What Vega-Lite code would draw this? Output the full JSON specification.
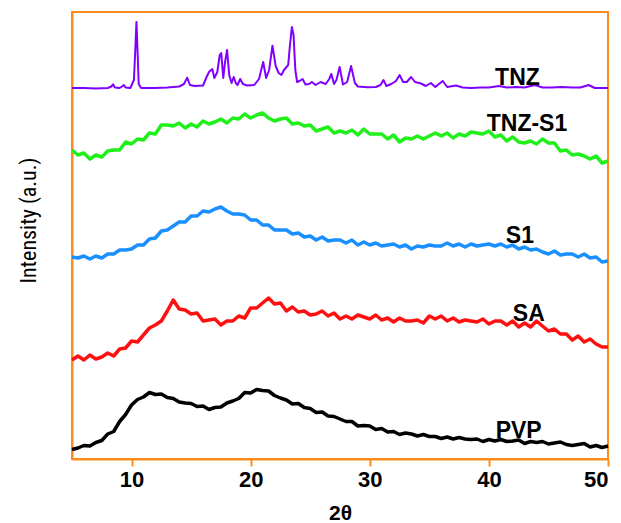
{
  "$schema": "https://vega.github.io/schema/vega-lite/v6.json",
  "width": 536,
  "height": 447,
  "autosize": {"type": "none"},
  "padding": {"left": 72, "top": 12, "right": 13, "bottom": 64},
  "background": "white",
  "config": {
    "view": {"stroke": "#ff8c1a", "strokeWidth": 2},
    "font": "Liberation Sans"
  },
  "datasets": {
    "amorph": [
      {"x":5.0,"g":309,"b":202,"r":99,"k":9.5},{"x":5.5,"g":304,"b":201,"r":103,"k":11},{"x":6.0,"g":306,"b":203,"r":99,"k":13.5},{"x":6.5,"g":300,"b":200,"r":104,"k":13},{"x":7.0,"g":304,"b":203,"r":100,"k":16.5},
      {"x":7.5,"g":302,"b":201,"r":102,"k":18.5},{"x":8.0,"g":308,"b":205,"r":106,"k":25},{"x":8.5,"g":309,"b":205,"r":103,"k":27.5},{"x":9.0,"g":309,"b":209,"r":110,"k":37.5},{"x":9.5,"g":317,"b":209,"r":111,"k":44.5},
      {"x":10.0,"g":315,"b":210,"r":118,"k":54},{"x":10.5,"g":320,"b":214,"r":117,"k":59.5},{"x":11.0,"g":319,"b":214,"r":124,"k":62},{"x":11.5,"g":326,"b":220,"r":131,"k":66.5},{"x":12.0,"g":325,"b":221,"r":134,"k":64.5},
      {"x":12.5,"g":334,"b":228,"r":138,"k":65},{"x":13.0,"g":334,"b":229,"r":148,"k":61.5},{"x":13.5,"g":333,"b":233,"r":159,"k":60.5},{"x":14.0,"g":336,"b":237,"r":150,"k":57},{"x":14.5,"g":331,"b":237,"r":149,"k":56},
      {"x":15.0,"g":335,"b":243,"r":145,"k":55.5},{"x":15.5,"g":332,"b":243,"r":146,"k":52.5},{"x":16.0,"g":338,"b":248,"r":138,"k":53},{"x":16.5,"g":335,"b":247,"r":139,"k":49.5},{"x":17.0,"g":337,"b":250,"r":140,"k":51.5},
      {"x":17.5,"g":340,"b":252,"r":134,"k":52},{"x":18.0,"g":336,"b":248,"r":138,"k":56},{"x":18.5,"g":341,"b":245,"r":138,"k":58},{"x":19.0,"g":340,"b":245,"r":143,"k":60.5},{"x":19.5,"g":345,"b":244,"r":141,"k":66.5},
      {"x":20.0,"g":341,"b":239,"r":151,"k":66},{"x":20.5,"g":344,"b":239,"r":151,"k":69.5},{"x":21.0,"g":346,"b":234,"r":156,"k":68.5},{"x":21.5,"g":341,"b":234,"r":161,"k":68},{"x":22.0,"g":338,"b":229,"r":155,"k":63.5},
      {"x":22.5,"g":340,"b":229,"r":156,"k":61},{"x":23.0,"g":341,"b":229,"r":148,"k":59},{"x":23.5,"g":335,"b":225,"r":152,"k":55},{"x":24.0,"g":336,"b":226,"r":147,"k":55.5},{"x":24.5,"g":333,"b":222,"r":148,"k":51.5},
      {"x":25.0,"g":334,"b":223,"r":144,"k":50.5},{"x":25.5,"g":328,"b":219,"r":145,"k":46.5},{"x":26.0,"g":330,"b":222,"r":148,"k":47},{"x":26.5,"g":332,"b":218,"r":143,"k":43},{"x":27.0,"g":326,"b":219,"r":146,"k":42.5},
      {"x":27.5,"g":328,"b":219,"r":140,"k":40},{"x":28.0,"g":326,"b":216,"r":143,"k":37.5},{"x":28.5,"g":329,"b":219,"r":140,"k":37.5},{"x":29.0,"g":324,"b":214,"r":144,"k":33},{"x":29.5,"g":330,"b":217,"r":142,"k":33.5},
      {"x":30.0,"g":325,"b":214,"r":140,"k":33},{"x":30.5,"g":325,"b":216,"r":144,"k":29.5},{"x":31.0,"g":325,"b":213,"r":139,"k":30.5},{"x":31.5,"g":320,"b":214,"r":141,"k":27},{"x":32.0,"g":324,"b":215,"r":137,"k":27.5},
      {"x":32.5,"g":317,"b":212,"r":141,"k":24.5},{"x":33.0,"g":321,"b":214,"r":138,"k":26},{"x":33.5,"g":320,"b":210,"r":138,"k":25},{"x":34.0,"g":323,"b":213,"r":139,"k":23},{"x":34.5,"g":320,"b":212,"r":136,"k":24.5},
      {"x":35.0,"g":323,"b":214,"r":143,"k":22.5},{"x":35.5,"g":326,"b":213,"r":140,"k":22.5},{"x":36.0,"g":323,"b":213,"r":143,"k":20.5},{"x":36.5,"g":326,"b":216,"r":138,"k":22},{"x":37.0,"g":321,"b":213,"r":141,"k":20},
      {"x":37.5,"g":325,"b":215,"r":137,"k":21.5},{"x":38.0,"g":323,"b":212,"r":139,"k":20},{"x":38.5,"g":327,"b":215,"r":138,"k":19.5},{"x":39.0,"g":326,"b":213,"r":137,"k":20},{"x":39.5,"g":325,"b":214,"r":140,"k":17.5},
      {"x":40.0,"g":328,"b":215,"r":135,"k":19.5},{"x":40.5,"g":322,"b":213,"r":138,"k":18},{"x":41.0,"g":324,"b":215,"r":138,"k":19.5},{"x":41.5,"g":318,"b":212,"r":134,"k":17.5},{"x":42.0,"g":322,"b":214,"r":138,"k":18},
      {"x":42.5,"g":317,"b":210,"r":132,"k":19},{"x":43.0,"g":316,"b":212,"r":136,"k":15.5},{"x":43.5,"g":318,"b":209,"r":132,"k":17.5},{"x":44.0,"g":315,"b":210,"r":138,"k":16.5},{"x":44.5,"g":320,"b":207,"r":133,"k":17.5},
      {"x":45.0,"g":316,"b":205,"r":128,"k":15},{"x":45.5,"g":316,"b":208,"r":130,"k":16},{"x":46.0,"g":308,"b":204,"r":125,"k":17},{"x":46.5,"g":309,"b":205,"r":125,"k":14.5},{"x":47.0,"g":304,"b":205,"r":119,"k":13.5},
      {"x":47.5,"g":305,"b":202,"r":123,"k":14.5},{"x":48.0,"g":303,"b":205,"r":117,"k":15.5},{"x":48.5,"g":300,"b":201,"r":120,"k":12},{"x":49.0,"g":303,"b":202,"r":115,"k":13.5},{"x":49.5,"g":296,"b":197,"r":112,"k":11.5},
      {"x":50.0,"g":298,"b":198,"r":112,"k":13}
    ],
    "tnz": [
      {"x":5.0,"v":371},{"x":6.0,"v":371},{"x":7.0,"v":370.5},{"x":8.0,"v":371},{"x":8.3,"v":372.5},{"x":8.45,"v":374.7},{"x":8.6,"v":371.5},{"x":9.0,"v":371},{"x":9.2,"v":372.5},{"x":9.35,"v":374},{"x":9.5,"v":371.5},{"x":9.9,"v":371},
      {"x":10.2,"v":379},{"x":10.33,"v":414},{"x":10.41,"v":437},{"x":10.5,"v":409},{"x":10.6,"v":375},{"x":10.8,"v":371},{"x":12.0,"v":371},{"x":13.0,"v":371.5},{"x":14.0,"v":372.5},{"x":14.4,"v":375},{"x":14.67,"v":381.3},{"x":14.9,"v":374},
      {"x":15.3,"v":373},{"x":16.0,"v":373.5},{"x":16.3,"v":382},{"x":16.5,"v":387},{"x":16.78,"v":390},{"x":16.95,"v":381},{"x":17.2,"v":387},{"x":17.4,"v":404},{"x":17.53,"v":406},{"x":17.7,"v":381},{"x":17.85,"v":397},{"x":18.02,"v":409},
      {"x":18.2,"v":384},{"x":18.4,"v":376},{"x":18.58,"v":382},{"x":18.75,"v":376},{"x":18.9,"v":374},{"x":19.12,"v":380},{"x":19.35,"v":375},{"x":19.7,"v":373.5},{"x":20.3,"v":374},{"x":20.7,"v":380},{"x":21.05,"v":397},{"x":21.3,"v":381},
      {"x":21.55,"v":389},{"x":21.83,"v":413.3},{"x":22.1,"v":393},{"x":22.35,"v":386},{"x":22.58,"v":384},{"x":22.8,"v":389},{"x":22.94,"v":391},{"x":23.15,"v":394},{"x":23.3,"v":414},{"x":23.46,"v":432},{"x":23.6,"v":424},{"x":23.75,"v":389},
      {"x":23.9,"v":377},{"x":24.1,"v":378},{"x":24.36,"v":380},{"x":24.6,"v":374.5},{"x":24.9,"v":375},{"x":25.14,"v":377},{"x":25.45,"v":374},{"x":25.87,"v":377},{"x":26.3,"v":375},{"x":26.6,"v":380},{"x":26.77,"v":385},{"x":27.0,"v":375},
      {"x":27.2,"v":379},{"x":27.47,"v":392},{"x":27.75,"v":374.5},{"x":28.1,"v":377},{"x":28.43,"v":393},{"x":28.75,"v":376},{"x":29.0,"v":372.5},{"x":29.8,"v":371.7},{"x":30.5,"v":372},{"x":30.9,"v":374},{"x":31.15,"v":379},{"x":31.4,"v":373},
      {"x":31.8,"v":375},{"x":32.2,"v":378},{"x":32.5,"v":384},{"x":32.8,"v":377},{"x":33.1,"v":377},{"x":33.47,"v":382},{"x":33.8,"v":377},{"x":34.3,"v":375.5},{"x":34.7,"v":373},{"x":35.13,"v":376},{"x":35.5,"v":372},{"x":36.12,"v":378},
      {"x":36.5,"v":372},{"x":37.24,"v":373.5},{"x":37.8,"v":371.5},{"x":38.5,"v":371},{"x":39.3,"v":371.5},{"x":40.0,"v":371.5},{"x":40.85,"v":373},{"x":41.5,"v":371.5},{"x":42.3,"v":372},{"x":43.0,"v":371.5},{"x":43.86,"v":374},{"x":44.5,"v":371.5},
      {"x":45.3,"v":371.5},{"x":46.1,"v":372},{"x":47.0,"v":371.5},{"x":47.7,"v":371.5},{"x":48.37,"v":374},{"x":48.9,"v":371},{"x":49.4,"v":371},{"x":50.0,"v":371}
    ],
    "labels": [
      {"x":42.4,"v":381.5,"t":"TNZ"},
      {"x":43.2,"v":335.5,"t":"TNZ-S1"},
      {"x":42.6,"v":223.5,"t":"S1"},
      {"x":43.35,"v":145.5,"t":"SA"},
      {"x":42.5,"v":28.5,"t":"PVP"}
    ]
  },
  "layer": [
    {
      "data": {"name": "amorph"},
      "transform": [{"fold": ["g", "b", "r", "k"], "as": ["s", "v"]}],
      "mark": {"type": "line", "strokeWidth": 3.5, "strokeJoin": "round"},
      "encoding": {
        "x": {
          "field": "x", "type": "quantitative",
          "scale": {"domain": [5, 50], "nice": false, "zero": false},
          "axis": {
            "values": [10, 20, 30, 40, 50],
            "title": "2θ",
            "grid": false,
            "domainColor": "#ff8c1a", "domainWidth": 2,
            "tickColor": "#ff8c1a", "tickWidth": 2, "tickSize": 7,
            "labelFont": "Liberation Sans", "labelFontSize": 22, "labelFontWeight": "bold", "labelColor": "black", "labelPadding": 3,
            "titleFont": "Liberation Sans", "titleFontSize": 21, "titleFontWeight": "bold", "titleColor": "black", "titlePadding": 12
          }
        },
        "y": {
          "field": "v", "type": "quantitative",
          "scale": {"domain": [0, 447], "nice": false, "zero": false},
          "axis": {
            "title": "Intensity (a.u.)",
            "grid": false, "ticks": false, "labels": false,
            "domainColor": "#ff8c1a", "domainWidth": 2,
            "titleFont": "Liberation Sans Narrow, Roboto Condensed, Liberation Sans", "titleFontSize": 22, "titleFontWeight": "normal", "titleColor": "black",
            "titleX": -37, "titleY": 208, "titleBaseline": "alphabetic", "titleAlign": "center"
          }
        },
        "color": {
          "field": "s", "type": "nominal",
          "scale": {"domain": ["g", "b", "r", "k"], "range": ["#1ff01a", "#1a8fff", "#ff1010", "#000000"]},
          "legend": null
        },
        "detail": {"field": "s"}
      }
    },
    {
      "data": {"name": "tnz"},
      "mark": {"type": "line", "strokeWidth": 2, "color": "#8000ff", "strokeJoin": "round"},
      "encoding": {
        "x": {"field": "x", "type": "quantitative"},
        "y": {"field": "v", "type": "quantitative"}
      }
    },
    {
      "data": {"name": "labels"},
      "mark": {"type": "text", "font": "Liberation Sans", "fontSize": 23, "fontWeight": "bold", "color": "black", "align": "center", "baseline": "middle"},
      "encoding": {
        "x": {"field": "x", "type": "quantitative"},
        "y": {"field": "v", "type": "quantitative"},
        "text": {"field": "t"}
      }
    }
  ]
}
